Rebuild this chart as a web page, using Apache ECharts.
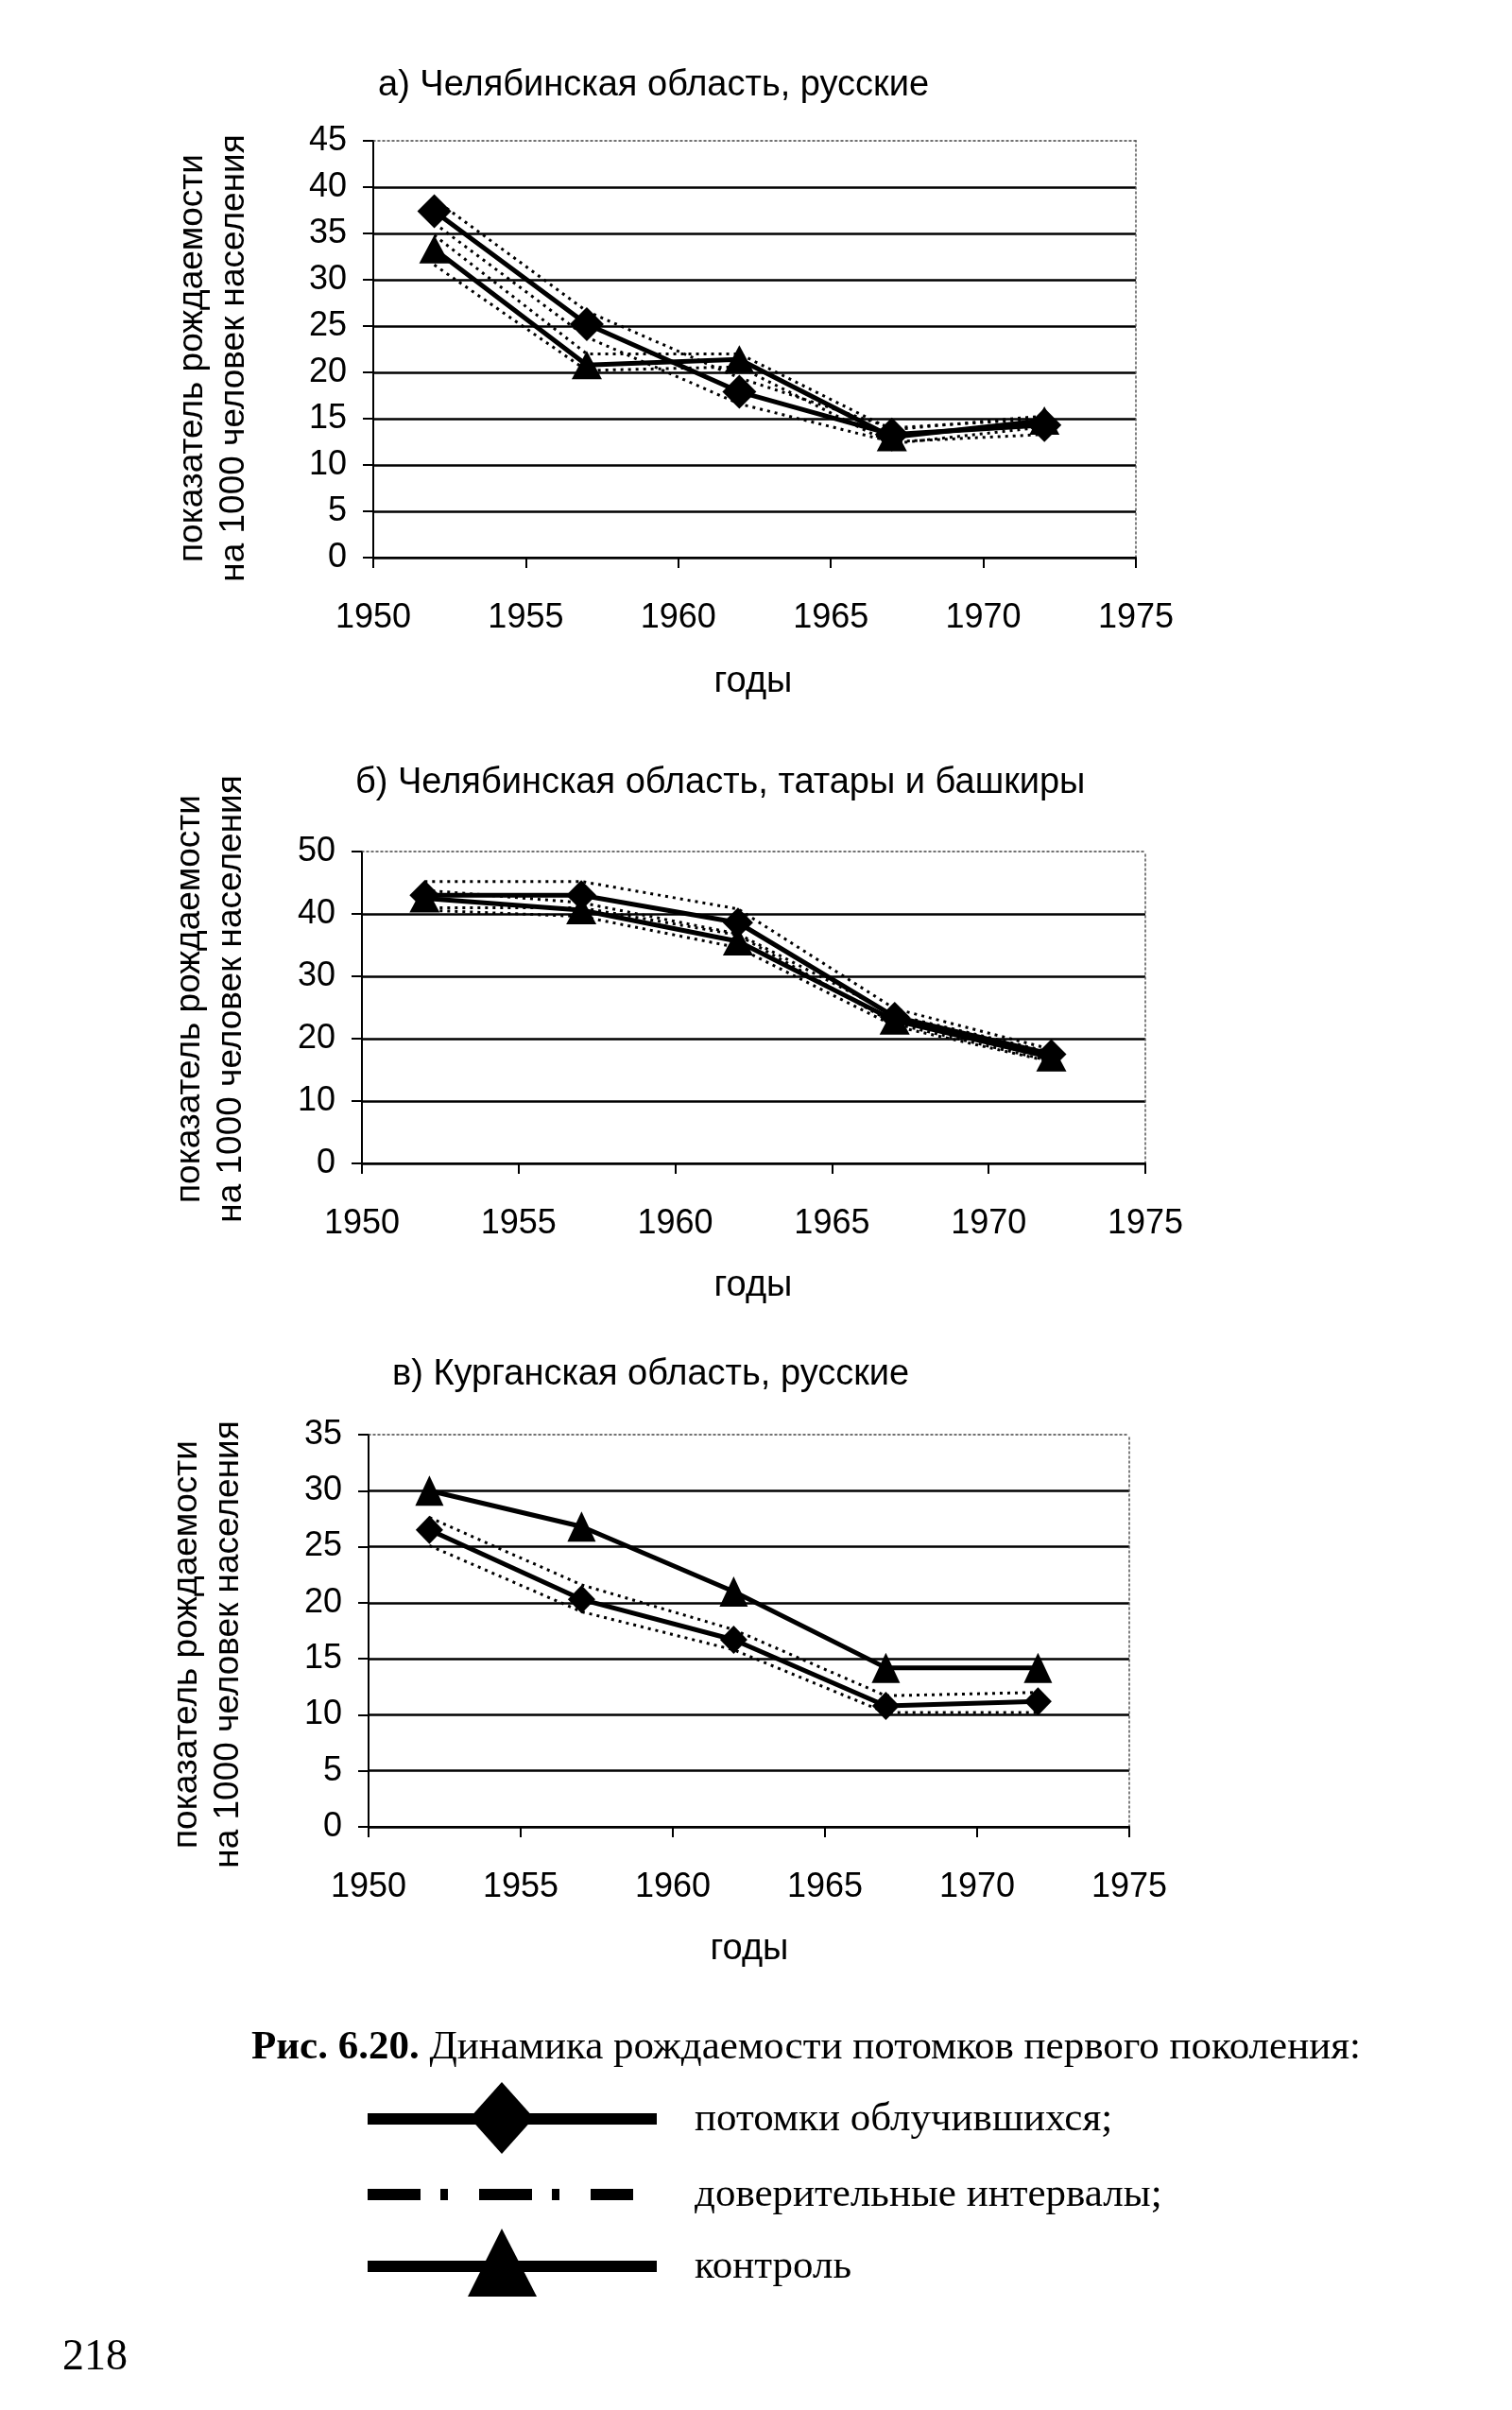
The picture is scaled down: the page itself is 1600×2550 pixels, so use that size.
<!DOCTYPE html>
<html>
<head>
<meta charset="utf-8">
<script src="https://cdn.jsdelivr.net/npm/echarts@6/dist/echarts.min.js"></script>
<style>
html,body{margin:0;padding:0;background:#fff;}
#c{width:1600px;height:2550px;}
</style>
</head>
<body>
<div id="c"></div>
<script>
// ---- data ----
const years = [1952, 1957, 1962, 1967, 1972];

// a) Челябинская область, русские
const aExposed   = [37.4, 25.2, 17.9, 13.3, 14.3];
const aExposedHi = [38.7, 26.6, 19.4, 14.0, 15.0];
const aExposedLo = [36.1, 23.8, 16.6, 12.5, 13.3];
const aControl   = [33.3, 20.8, 21.4, 13.0, 14.8];
const aControlHi = [34.8, 22.0, 22.0, 13.8, 15.3];
const aControlLo = [31.6, 20.2, 20.6, 12.3, 14.1];

// б) Челябинская область, татары и башкиры
const bExposed   = [43.0, 43.0, 38.6, 23.5, 17.5];
const bExposedHi = [45.2, 45.2, 40.8, 24.8, 18.3];
const bExposedLo = [41.0, 41.0, 36.6, 22.4, 16.4];
const bControl   = [42.5, 40.6, 35.6, 22.9, 17.0];
const bControlHi = [43.8, 41.8, 36.8, 23.8, 17.8];
const bControlLo = [40.6, 39.6, 34.6, 22.0, 16.3];

// в) Курганская область, русские
const cExposed   = [26.5, 20.3, 16.7, 10.8, 11.2];
const cExposedHi = [27.6, 21.6, 17.6, 11.7, 12.0];
const cExposedLo = [25.1, 19.2, 15.8, 10.2, 10.2];
const cControl   = [30.0, 26.8, 21.0, 14.2, 14.2];

const titles = ['а) Челябинская область, русские',
                'б) Челябинская область, татары и башкиры',
                'в) Курганская область, русские'];
const yNameLines = ['показатель рождаемости', 'на 1000 человек населения'];
const xName = 'годы';
const yMax = [45, 50, 35];
const yStep = [5, 10, 5];
const xMin = 1950, xMax = 1975, xStep = 5;

const legendLabels = ['потомки облучившихся;', 'доверительные интервалы;', 'контроль'];
const captionBold = 'Рис. 6.20.';
const captionRest = ' Динамика рождаемости потомков первого поколения:';
const pageNumber = '218';

// ---- layout ----
const SANS = '"Liberation Sans", Arial, sans-serif';
const SERIF = '"Liberation Serif", "Times New Roman", serif';
const grids = [
  {left: 395, top: 149, width: 807, height: 441},
  {left: 383, top: 901, width: 829, height: 330},
  {left: 390, top: 1518, width: 805, height: 415}
];
const titlePos = [[400, 91], [376, 829], [415, 1455]];
const yNamePos = [[226, 379], [223, 1057], [220, 1740]];
const xNamePos = [[797, 722], [797, 1361], [793, 2063]];
const markerSizes = [
  {dia: [36, 36], tri: [32, 30]},
  {dia: [32, 32], tri: [32, 30]},
  {dia: [29, 30], tri: [30, 32]}
];

const pairs = arr => years.map((y, i) => [y, arr[i]]);

const xAxes = [], yAxes = [], series = [];
grids.forEach((g, i) => {
  xAxes.push({
    type: 'value', gridIndex: i, min: xMin, max: xMax, interval: xStep,
    axisLine: {show: true, onZero: false, lineStyle: {color: '#000', width: 2}},
    axisTick: {show: true, length: 11, lineStyle: {color: '#000', width: 2}},
    axisLabel: {margin: 46, fontSize: 36, fontFamily: SANS, color: '#000', formatter: v => String(v)},
    splitLine: {show: false}
  });
  yAxes.push({
    type: 'value', gridIndex: i, min: 0, max: yMax[i], interval: yStep[i],
    axisLine: {show: true, lineStyle: {color: '#000', width: 2}},
    axisTick: {show: true, length: 11, lineStyle: {color: '#000', width: 2}},
    axisLabel: {margin: 28, fontSize: 36, fontFamily: SANS, color: '#000'},
    splitLine: {show: true, showMaxLine: false, lineStyle: {color: '#000', width: 2.5}}
  });
});
// dotted frame (top and right edges of the plot area)
grids.forEach((g, i) => {
  xAxes.push({
    type: 'value', gridIndex: i, position: 'top', min: xMin, max: xMax,
    axisLine: {show: true, onZero: false, lineStyle: {color: '#444', width: 1.5, type: [2, 3]}},
    axisTick: {show: false}, axisLabel: {show: false}, splitLine: {show: false}
  });
  yAxes.push({
    type: 'value', gridIndex: i, position: 'right', min: 0, max: yMax[i],
    axisLine: {show: true, onZero: false, lineStyle: {color: '#555', width: 1.5, type: [2, 3]}},
    axisTick: {show: false}, axisLabel: {show: false}, splitLine: {show: false}
  });
});

function ci(i, arr) {
  series.push({
    type: 'line', xAxisIndex: i, yAxisIndex: i, data: pairs(arr),
    symbol: 'none', silent: true, z: 2,
    lineStyle: {color: '#000', width: 3, type: [3, 5]}
  });
}
function main(i, arr, sym, size) {
  series.push({
    type: 'line', xAxisIndex: i, yAxisIndex: i, data: pairs(arr),
    symbol: sym, symbolSize: size, z: 3,
    itemStyle: {color: '#000'},
    lineStyle: {color: '#000', width: 5}
  });
}
ci(0, aExposedHi); ci(0, aExposedLo); ci(0, aControlHi); ci(0, aControlLo);
main(0, aControl, 'triangle', markerSizes[0].tri);
main(0, aExposed, 'diamond', markerSizes[0].dia);
ci(1, bExposedHi); ci(1, bExposedLo); ci(1, bControlHi); ci(1, bControlLo);
main(1, bControl, 'triangle', markerSizes[1].tri);
main(1, bExposed, 'diamond', markerSizes[1].dia);
ci(2, cExposedHi); ci(2, cExposedLo);
main(2, cControl, 'triangle', markerSizes[2].tri);
main(2, cExposed, 'diamond', markerSizes[2].dia);

// ---- texts & figure legend ----
const graphic = [];
titles.forEach((t, i) => {
  graphic.push({type: 'text', x: titlePos[i][0], y: titlePos[i][1],
    style: {text: t, fontSize: 38, fontFamily: SANS, fill: '#000', align: 'left', verticalAlign: 'middle'}});
  graphic.push({type: 'text', x: yNamePos[i][0], y: yNamePos[i][1], rotation: Math.PI / 2,
    style: {text: yNameLines.join('\n'), fontSize: 37, lineHeight: 44, fontFamily: SANS, fill: '#000', align: 'center', verticalAlign: 'middle'}});
  graphic.push({type: 'text', x: xNamePos[i][0], y: xNamePos[i][1],
    style: {text: xName, fontSize: 38, fontFamily: SANS, fill: '#000', align: 'center', verticalAlign: 'middle'}});
});
graphic.push({type: 'text', x: 266, y: 2167,
  style: {text: '{b|' + captionBold + '}' + captionRest, fontSize: 43, fontFamily: SERIF, fill: '#000',
    verticalAlign: 'middle', rich: {b: {fontWeight: 'bold', fontSize: 43, fontFamily: SERIF}}}});
// legend rows
const legY = [2242, 2322, 2398];
graphic.push({type: 'line', shape: {x1: 389, y1: legY[0], x2: 695, y2: legY[0]}, style: {stroke: '#000', lineWidth: 12}});
graphic.push({type: 'polygon', shape: {points: [[531, 2203], [565, 2241], [531, 2279], [497, 2241]]}, style: {fill: '#000'}});
graphic.push({type: 'line', shape: {x1: 389, y1: legY[1], x2: 670, y2: legY[1]}, style: {stroke: '#000', lineWidth: 12, lineDash: [56, 21, 8, 33]}});
graphic.push({type: 'line', shape: {x1: 389, y1: legY[2], x2: 695, y2: legY[2]}, style: {stroke: '#000', lineWidth: 12}});
graphic.push({type: 'polygon', shape: {points: [[531, 2358], [568, 2430], [495, 2430]]}, style: {fill: '#000'}});
legendLabels.forEach((t, i) => {
  graphic.push({type: 'text', x: 735, y: legY[i] + 1,
    style: {text: t, fontSize: 43, fontFamily: SERIF, fill: '#000', verticalAlign: 'middle'}});
});
graphic.push({type: 'text', x: 66, y: 2495,
  style: {text: pageNumber, fontSize: 46, fontFamily: SERIF, fill: '#000', verticalAlign: 'middle'}});

const chart = echarts.init(document.getElementById('c'), null, {renderer: 'canvas'});
chart.setOption({
  animation: false,
  backgroundColor: '#fff',
  grid: grids.map(g => Object.assign({containLabel: false}, g)),
  xAxis: xAxes,
  yAxis: yAxes,
  series: series,
  graphic: graphic
});
</script>
</body>
</html>
